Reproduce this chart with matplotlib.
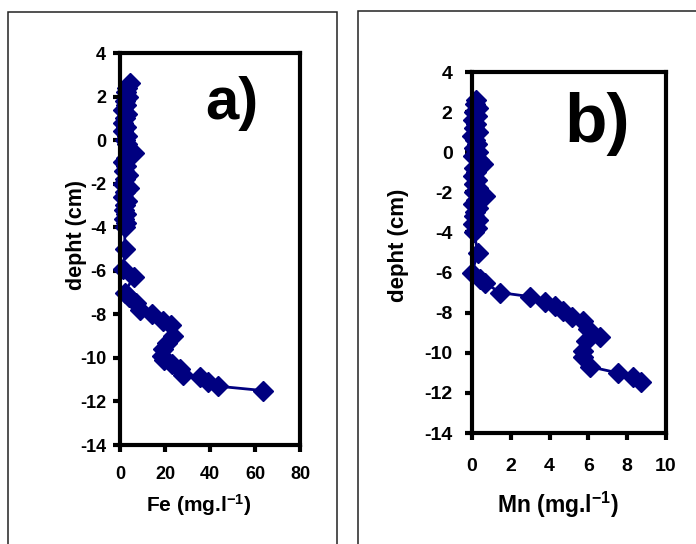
import matplotlib
matplotlib.use("Agg")
import matplotlib.pyplot as plt
from matplotlib.patches import Rectangle

plt.rcParams['font.family'] = ['Liberation Sans', 'DejaVu Sans']
plt.rcParams['font.weight'] = 'bold'
plt.rcParams['mathtext.default'] = 'regular'
plt.rcParams['axes.unicode_minus'] = False

# ---- data ----
fe_depth = [2.6, 2.4, 2.2, 2.0, 1.8, 1.6, 1.4, 1.2, 1.0, 0.8, 0.6, 0.4, 0.2, 0.0,
            -0.2, -0.4, -0.6, -0.8, -1.0, -1.2, -1.4, -1.6, -1.8, -2.0, -2.2, -2.4,
            -2.6, -2.8, -3.0, -3.2, -3.4, -3.6, -3.8, -4.0,
            -5.0, -5.9, -6.3, -7.0, -7.2, -7.5, -7.8, -8.0, -8.3, -8.5, -9.0, -9.3,
            -9.6, -9.9, -10.1, -10.3, -10.5, -10.8, -10.9, -11.1, -11.3, -11.5]
fe_value = [4.4, 3.0, 2.5, 3.5, 2.0, 2.8, 1.5, 3.0, 2.0, 1.2, 2.8, 1.5, 3.2, 2.0,
            3.0, 4.0, 6.0, 2.5, 1.5, 2.8, 1.8, 3.5, 2.2, 1.5, 3.8, 2.0,
            1.5, 3.0, 2.2, 1.6, 2.8, 1.8, 2.5, 2.0,
            2.2, 1.5, 6.0, 2.0, 4.0, 7.0, 9.0, 14.0, 19.0, 22.5, 23.5, 21.0,
            19.0, 18.5, 19.5, 23.0, 26.5, 28.0, 35.5, 39.0, 43.5, 63.5]

mn_depth = [2.6, 2.4, 2.2, 2.0, 1.8, 1.6, 1.4, 1.2, 1.0, 0.8, 0.6, 0.4, 0.2, 0.0,
            -0.2, -0.4, -0.6, -0.8, -1.0, -1.2, -1.4, -1.6, -1.8, -2.0, -2.2, -2.4,
            -2.6, -2.8, -3.0, -3.2, -3.4, -3.6, -3.8, -4.0,
            -5.0, -6.0, -6.3, -6.5, -7.0, -7.2, -7.45, -7.65, -7.9, -8.2, -8.4, -8.8,
            -9.2, -9.4, -9.9, -10.2, -10.7, -11.0, -11.2, -11.45]
mn_value = [0.2, 0.15, 0.3, 0.1, 0.25, 0.05, 0.2, 0.1, 0.3, 0.0, 0.15, 0.25, 0.1, 0.3,
            0.05, 0.35, 0.55, 0.1, 0.2, 0.05, 0.25, 0.1, 0.3, 0.1, 0.65, 0.2,
            0.05, 0.3, 0.15, 0.1, 0.3, 0.05, 0.25, 0.1,
            0.3, 0.0, 0.4, 0.65, 1.45, 3.0, 3.75, 4.3, 4.7, 5.15, 5.7, 6.0,
            6.6, 5.9, 5.7, 5.7, 6.1, 7.5, 8.3, 8.7]

y_ticks = [4, 2, 0, -2, -4, -6, -8, -10, -12, -14]
fe_ticks = [0, 20, 40, 60, 80]
mn_ticks = [0, 2, 4, 6, 8, 10]

color = '#000080'

fig = plt.figure(figsize=(6.96, 5.44), dpi=100)

# outer panel frames
W, H = 696.0, 544.0
fig.patches.append(Rectangle((8 / W, -0.05), (337 - 8) / W, 1.05 - 12 / H,
                             transform=fig.transFigure, fill=False,
                             edgecolor='#222222', linewidth=1.1))
fig.patches.append(Rectangle((358 / W, -0.05), 0.5, 1.05 - 11 / H,
                             transform=fig.transFigure, fill=False,
                             edgecolor='#222222', linewidth=1.1))

ax1 = fig.add_axes([120 / W, 1 - 445 / H, 180 / W, 392 / H])
ax2 = fig.add_axes([472 / W, 1 - 433 / H, 194 / W, 361 / H])


def style(ax, xt, xlim, xlabel, tag, tagpos, tagsize, tsize, lsize, ylsize,
          xpad, ypad, xlpad, ylx, yly):
    ax.set_xlim(*xlim)
    ax.set_ylim(-14, 4)
    ax.set_xticks(xt)
    ax.set_yticks(y_ticks)
    for s in ax.spines.values():
        s.set_linewidth(3.0)
    ax.tick_params(direction='out', length=5, width=3.0, labelsize=tsize)
    ax.tick_params(axis='x', pad=xpad)
    ax.tick_params(axis='y', pad=ypad)
    for lab in ax.get_xticklabels() + ax.get_yticklabels():
        lab.set_fontweight('bold')
    ax.set_xlabel(xlabel, fontsize=lsize, fontweight='bold', labelpad=xlpad)
    ax.set_ylabel('depht (cm)', fontsize=ylsize, fontweight='bold')
    ax.yaxis.set_label_coords(ylx, yly)
    ax.text(tagpos[0], tagpos[1], tag, transform=ax.transAxes, fontsize=tagsize,
            fontweight='bold', ha='center', va='center')
    ax.xaxis.label.set_x(0.44)


ax1.plot(fe_value, fe_depth, color=color, marker='D', markersize=10.5,
         linewidth=2, clip_on=False)
ax2.plot(mn_value, mn_depth, color=color, marker='D', markersize=10.5,
         linewidth=2, clip_on=False)

style(ax1, fe_ticks, (0, 80), 'Fe (mg.l$^{-1}$)', 'a)', (0.62, 0.87), 43,
      13, 15, 15.5, 10, 5, 7, -0.185, 0.536)
style(ax2, mn_ticks, (0, 10), 'Mn (mg.l$^{-1}$)', 'b)', (0.645, 0.855), 50,
      14, 16.5, 16, 13, 9, 11, -0.325, 0.52)

fig.savefig('out.png', dpi=100)
